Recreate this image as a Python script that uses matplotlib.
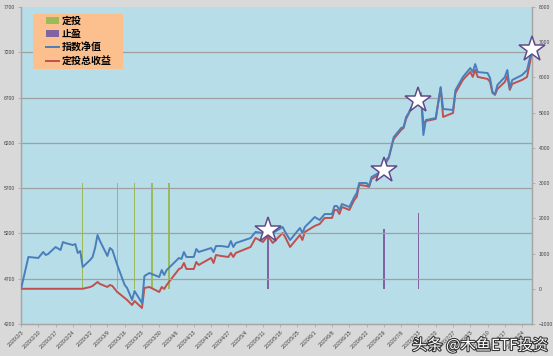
import matplotlib
matplotlib.use("Agg")
import matplotlib.pyplot as plt
import matplotlib.patheffects as pe
from matplotlib.patches import Patch, Rectangle
from matplotlib.lines import Line2D
import pandas as pd

plt.rcParams['font.family'] = ['Noto Sans CJK SC', 'DejaVu Sans']

dates = [
    '2020-02-03', '2020-02-06', '2020-02-10', '2020-02-12', '2020-02-13', '2020-02-14', '2020-02-17',
    '2020-02-19', '2020-02-20', '2020-02-21', '2020-02-24', '2020-02-25', '2020-02-26', '2020-02-27',
    '2020-02-28',
    '2020-03-02', '2020-03-03', '2020-03-04', '2020-03-05', '2020-03-06', '2020-03-09', '2020-03-10',
    '2020-03-11', '2020-03-13', '2020-03-16', '2020-03-17', '2020-03-19', '2020-03-20', '2020-03-23',
    '2020-03-24', '2020-03-26', '2020-03-30', '2020-03-31',
    '2020-04-01', '2020-04-02', '2020-04-07', '2020-04-08', '2020-04-09', '2020-04-10', '2020-04-13',
    '2020-04-14', '2020-04-15', '2020-04-20', '2020-04-21', '2020-04-22', '2020-04-24', '2020-04-27',
    '2020-04-28', '2020-04-29', '2020-04-30',
    '2020-05-06', '2020-05-08', '2020-05-11', '2020-05-13', '2020-05-15', '2020-05-19', '2020-05-20',
    '2020-05-22', '2020-05-26', '2020-05-27', '2020-05-28',
    '2020-06-01', '2020-06-03', '2020-06-05', '2020-06-08', '2020-06-09', '2020-06-10', '2020-06-11',
    '2020-06-12', '2020-06-15', '2020-06-17', '2020-06-18', '2020-06-19', '2020-06-22', '2020-06-23',
    '2020-06-24', '2020-06-29', '2020-06-30',
    '2020-07-01', '2020-07-02', '2020-07-03', '2020-07-06', '2020-07-07', '2020-07-08', '2020-07-09',
    '2020-07-10', '2020-07-13', '2020-07-14', '2020-07-15', '2020-07-16', '2020-07-20', '2020-07-22',
    '2020-07-23', '2020-07-27', '2020-07-28', '2020-07-31',
    '2020-08-03', '2020-08-04', '2020-08-05', '2020-08-06', '2020-08-10', '2020-08-11', '2020-08-12',
    '2020-08-13', '2020-08-14', '2020-08-17', '2020-08-18', '2020-08-19', '2020-08-20', '2020-08-24',
    '2020-08-26', '2020-08-28',
]

index_nav = [
    4586, 4940, 4929, 4995, 4962, 4973, 5050, 5017, 5105, 5094, 5072, 5083, 4984, 5006, 4829,
    4907, 4940, 5039, 5183, 5116, 4951, 5039, 5017, 4851, 4631, 4597, 4465, 4564, 4432, 4730, 4763, 4719, 4796,
    4741, 4796, 4929, 4918, 4995, 4940, 4940, 5028, 4995, 5039, 4995, 5061, 5061, 5050, 5116, 5050, 5094,
    5149, 5216, 5205, 5238, 5205, 5271, 5216, 5127, 5260, 5205, 5271,
    5381, 5348, 5414, 5414, 5503, 5503, 5459, 5525, 5492, 5602, 5646, 5757, 5757, 5724, 5823, 5900, 6011,
    6044, 6154, 6264, 6364, 6375, 6485, 6529, 6585, 6673, 6750, 6287, 6452, 6474, 6816, 6574, 6563, 6783, 6927,
    7026, 6982, 7070, 6982, 6971, 6916, 6761, 6739, 6839, 6927, 7004, 6805, 6894, 6949, 7004, 7236,
]

total_return = [
    0, 0, 0, 0, 0, 0, 0, 0, 0, 0, 0, 0, 0, 0, 0,
    50, 80, 136, 193, 136, 51, 108, 80, -91, -261, -318, -460, -346, -545, 23, 51, -91, 51,
    -6, 108, 562, 591, 733, 562, 562, 761, 676, 875, 733, 960, 932, 903, 1017, 903, 1017,
    1187, 1443, 1329, 1500, 1301, 1585, 1471, 1187, 1528, 1386, 1613,
    1784, 1840, 2011, 2011, 2238, 2238, 2124, 2323, 2238, 2522, 2607, 2948, 2920, 2891, 3118, 3317, 3601,
    3715, 3999, 4254, 4510, 4567, 4822, 4964, 5106, 5333, 5504, 4678, 4763, 4822, 5703, 4879, 4992, 5560, 5930,
    6157, 6015, 6214, 6015, 5958, 5873, 5560, 5504, 5674, 5873, 6043, 5646, 5816, 5930, 6015, 6725,
]

buy_dates = ['2020-02-28', '2020-03-13', '2020-03-20', '2020-03-27', '2020-04-03']
buy_values = [3000, 3000, 3000, 3000, 3000]

sell_dates = ['2020-05-13', '2020-06-29', '2020-07-13']
sell_values = [1650, 1690, 2140]

star_dates = ['2020-05-13', '2020-06-29', '2020-07-13', '2020-08-28']
star_values = [5238, 5900, 6673, 7236]

legend_labels = ['定投', '止盈', '指数净值', '定投总收益']
x_start, x_end = '2020-02-03', '2020-08-28'

# ---------------------------------------------------------------
W, H = 553, 356
d = pd.to_datetime(dates)
fig = plt.figure(figsize=(W/100, H/100), dpi=100, facecolor='#D9D9D9')
ax2 = fig.add_axes([21/W, 1-324/H, (532-21)/W, (324-7)/H])
ax1 = ax2.twinx()
ax1.yaxis.tick_left(); ax1.yaxis.set_label_position('left')
ax2.yaxis.tick_right(); ax2.yaxis.set_label_position('right')
ax2.set_facecolor('#B7DDE8')
ax1.patch.set_visible(False)

grid_c = '#A0A0A0'
tick_font = 'Liberation Sans'

ax2.bar(pd.to_datetime(buy_dates), buy_values, width=0.6, color='#9BBB59', zorder=2)
ax2.bar(pd.to_datetime(sell_dates), sell_values, width=0.6, color='#8064A2', zorder=2)
ax2.plot(d, total_return, color='#C0504D', lw=1.4, zorder=3)
ax2.set_ylim(-1000, 8000)
ax2.set_yticks(range(-1000, 8001, 1000))

ax1.plot(d, index_nav, color='#4A7EBB', lw=1.4, zorder=3)
ax1.plot(pd.to_datetime(star_dates), star_values, linestyle='none', marker='*', markersize=19,
         markerfacecolor='white', markeredgecolor='#5F4B8B', markeredgewidth=1.1, zorder=5,
         clip_on=False)
ax1.set_ylim(4200, 7700)
ax1.set_yticks(range(4200, 7701, 500))

for v in range(4700, 7700, 500):
    ax1.axhline(v, color=grid_c, lw=0.9, zorder=0)

ax1.set_xlim(pd.Timestamp(x_start), pd.Timestamp(x_end))
ticks = pd.date_range(x_start, x_end, freq='7D')
tick_labels = [f"{t.year}/{t.month}/{t.day}" for t in ticks]
for ax in (ax1, ax2):
    ax.set_xticks(ticks)
    ax.set_xticklabels(tick_labels, rotation=45, ha='right', rotation_mode='anchor',
                       fontsize=3.8, color='#404040', family=tick_font)
    ax.tick_params(axis='x', length=2, width=0.5, color=grid_c, pad=2)
ax1.tick_params(axis='y', labelsize=3.6, labelcolor='#404040', length=2, width=0.5, color=grid_c, pad=2)
ax2.tick_params(axis='y', labelsize=3.6, labelcolor='#404040', length=2, width=0.5, color=grid_c, pad=3)
for lab in ax1.get_yticklabels() + ax2.get_yticklabels():
    lab.set_family(tick_font)

for ax in (ax1, ax2):
    for s in ax.spines.values():
        s.set_color('#A6A6A6'); s.set_linewidth(0.9)
    ax.spines['top'].set_visible(False)

# legend box
ax1.add_patch(Rectangle((33/W, 1-69/H), 90/W, 55/H, transform=fig.transFigure,
                        facecolor='#FBC08E', edgecolor='none', zorder=8, clip_on=False))
handles = [Patch(facecolor='#9BBB59'), Patch(facecolor='#8064A2'),
           Line2D([], [], color='#4A7EBB', lw=1.4), Line2D([], [], color='#C0504D', lw=1.4)]
leg = ax1.legend(handles, legend_labels, loc='upper left',
                 bbox_to_anchor=(46/W, 1-16/H), bbox_transform=fig.transFigure,
                 frameon=False, fontsize=7.2, handlelength=1.3, handleheight=0.7,
                 labelspacing=0.34, borderpad=0.0, handletextpad=0.25, borderaxespad=0)
leg.set_zorder(10)
for t in leg.get_texts():
    t.set_fontweight('bold')

fig.text(548/W, 1-350/H, '头条 @木鱼ETF投资', ha='right', va='baseline', fontsize=11,
         color='white', path_effects=[pe.withStroke(linewidth=1.5, foreground='#303030')])

fig.savefig('out.png', dpi=100, facecolor=fig.get_facecolor())
